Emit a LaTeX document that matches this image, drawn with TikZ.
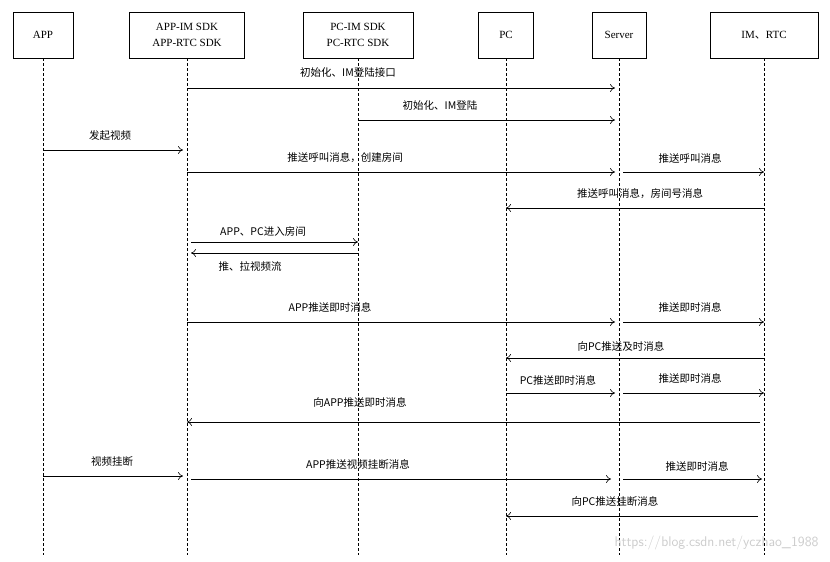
\documentclass[tikz,border=0pt]{standalone}
\usepackage{fontspec}
\setmainfont{Liberation Serif}
\newfontfamily\cjk{Noto Sans CJK SC}
\usetikzlibrary{arrows.meta}
\begin{document}
\begin{tikzpicture}[x=1pt,y=-1pt,
  hdr/.style={draw,line width=0.6pt,minimum height=46pt,font=\fontsize{11}{16}\selectfont,align=center,inner sep=0pt},
  life/.style={line width=0.5pt,dash pattern=on 3pt off 2pt},
  msg/.style={-{To[length=5pt,width=8pt]},line width=0.6pt},
  lab/.style={font=\cjk\fontsize{10.5}{12}\selectfont,inner sep=0pt}]
\useasboundingbox (0,0) rectangle (830,562);
\node[hdr,minimum width=60pt] (h1) at (43,35) {APP};
\node[hdr,minimum width=115pt] (h2) at (187,35) {APP-IM SDK\\APP-RTC SDK};
\node[hdr,minimum width=110pt] (h3) at (358,35) {PC-IM SDK\\PC-RTC SDK};
\node[hdr,minimum width=55pt] (h4) at (506,35) {PC};
\node[hdr,minimum width=54pt] (h5) at (619,35) {Server};
\node[hdr,minimum width=108pt] (h6) at (764,35) {IM{\cjk、}RTC};
\foreach \i/\x in {1/43,2/187,3/358,4/506,5/619,6/764}{
  \coordinate (e\i) at (\x,555);
  \draw[life] (h\i.south) -- (e\i);
  \foreach \y in {88,120,150,172,208,242,253,322,358,393,422,476,479,516}{\coordinate (p\i-\y) at (\x,\y);}
}
\draw[msg] (p2-88) -- ([xshift=-4pt]p5-88);
\node[lab] (l1) at (348,73) {初始化、IM登陆接口};
\draw[msg] (p3-120) -- ([xshift=-4pt]p5-120);
\node[lab] (l2) at (440,106) {初始化、IM登陆};
\draw[msg] (p1-150) -- ([xshift=-4pt]p2-150);
\node[lab] (l3) at (110,136) {发起视频};
\draw[msg] (p2-172) -- ([xshift=-4pt]p5-172);
\node[lab] (l4) at (345,158) {推送呼叫消息，创建房间};
\draw[msg] ([xshift=4pt]p5-172) -- (p6-172);
\node[lab] (l5) at (690,158) {推送呼叫消息};
\draw[msg] (p6-208) -- (p4-208);
\node[lab] (l6) at (640,194) {推送呼叫消息，房间号消息};
\draw[msg] ([xshift=4pt]p2-242) -- (p3-242);
\node[lab] (l7) at (263,232) {APP、PC进入房间};
\draw[msg] (p3-253) -- ([xshift=4pt]p2-253);
\node[lab] (l8) at (250,266) {推、拉视频流};
\draw[msg] (p2-322) -- ([xshift=-4pt]p5-322);
\node[lab] (l9) at (330,307) {APP推送即时消息};
\draw[msg] ([xshift=4pt]p5-322) -- (p6-322);
\node[lab] (l10) at (690,307) {推送即时消息};
\draw[msg] (p6-358) -- (p4-358);
\node[lab] (l11) at (621,346) {向PC推送及时消息};
\draw[msg] (p4-393) -- ([xshift=-4pt]p5-393);
\node[lab] (l12) at (558,380) {PC推送即时消息};
\draw[msg] ([xshift=4pt]p5-393) -- (p6-393);
\node[lab] (l13) at (690,378) {推送即时消息};
\draw[msg] ([xshift=-4pt]p6-422) -- (p2-422);
\node[lab] (l14) at (360,402) {向APP推送即时消息};
\draw[msg] (p1-476) -- ([xshift=-4pt]p2-476);
\node[lab] (l15) at (112,462) {视频挂断};
\draw[msg] ([xshift=4pt]p2-479) -- ([xshift=-8pt]p5-479);
\node[lab] (l16) at (358,464) {APP推送视频挂断消息};
\draw[msg] ([xshift=4pt]p5-479) -- ([xshift=-2pt]p6-479);
\node[lab] (l17) at (697,466) {推送即时消息};
\draw[msg] ([xshift=-6pt]p6-516) -- (p4-516);
\node[lab] (l18) at (615,501) {向PC推送挂断消息};
\node[font=\fontsize{14}{15}\selectfont\sffamily,text=black!20,anchor=east] (wm) at (822,543) {https://blog.csdn.net/yczhao\_1988};
\end{tikzpicture}
\end{document}
